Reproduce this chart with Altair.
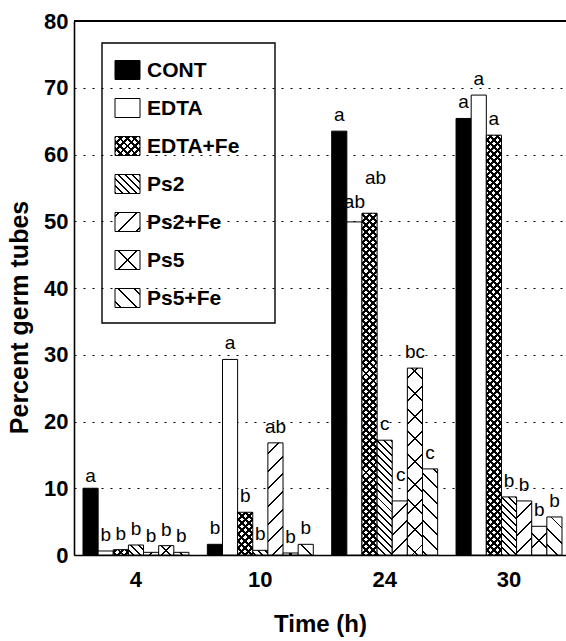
import math
import altair as alt
import pandas as pd

# ---------------- data ----------------
times = ["4", "10", "24", "30"]
series = ["CONT", "EDTA", "EDTA+Fe", "Ps2", "Ps2+Fe", "Ps5", "Ps5+Fe"]

cont = [10.0, 1.6, 63.5, 65.4]
edta = [0.6, 29.3, 49.9, 68.9]
edta_fe = [0.8, 6.4, 51.2, 62.9]
ps2 = [1.5, 0.7, 17.2, 8.7]
ps2_fe = [0.4, 16.8, 8.1, 8.1]
ps5 = [1.4, 0.3, 28.0, 4.3]
ps5_fe = [0.4, 1.6, 12.9, 5.7]

cont_sig = ["a", "b", "a", "a"]
edta_sig = ["b", "a", "ab", "a"]
edta_fe_sig = ["b", "b", "ab", "a"]
ps2_sig = ["b", "b", "c", "b"]
ps2_fe_sig = ["b", "ab", "c", "b"]
ps5_sig = ["b", "b", "bc", "b"]
ps5_fe_sig = ["b", "b", "c", "b"]

values = {"CONT": cont, "EDTA": edta, "EDTA+Fe": edta_fe, "Ps2": ps2,
          "Ps2+Fe": ps2_fe, "Ps5": ps5, "Ps5+Fe": ps5_fe}
sigs = {"CONT": cont_sig, "EDTA": edta_sig, "EDTA+Fe": edta_fe_sig, "Ps2": ps2_sig,
        "Ps2+Fe": ps2_fe_sig, "Ps5": ps5_sig, "Ps5+Fe": ps5_fe_sig}

# ---------------- layout / style ----------------
W, H = 492, 534
P_IN, P_OUT, ALIGN = 0.148, 0.0523, 0.692
STEP = W / (len(times) - P_IN + 2 * P_OUT)
BAR_W = STEP * (1 - P_IN) / len(series)
PX_PER_UNIT = H / 80.0
FONT = "Liberation Sans"
CLEAR = "rgba(255,255,255,0)"

patterns = {
    "CONT": ("solid", "black"),
    "EDTA": ("solid", "white"),
    "EDTA+Fe": ("cross", 5.0, 2.1),
    "Ps2": ("back", 5.0, 1.4),
    "Ps2+Fe": ("fwd", 12.5, 1.4),
    "Ps5": ("cross", 16.0, 1.4),
    "Ps5+Fe": ("back", 11.0, 1.4),
}

# label nudges (pixels up, pixels right) for crowded labels
label_nudge = {("24", "EDTA+Fe"): (29, 6), ("24", "Ps2+Fe"): (20, 1),
               ("24", "EDTA"): (14, 0), ("4", "CONT"): (6, 0)}
DEFAULT_LIFT = 10


def stripe_gradient(w, h, d, lw, direction, bg, ink="black"):
    w = max(w, 0.5)
    h = max(h, 0.5)
    k = h / w
    a = (w + h) * w / (w * w + h * h)
    if direction == "fwd":
        x1, y1, x2, y2 = 0, 0, a, a * k
    else:
        x1, y1, x2, y2 = 0, 1, a, 1 - a * k
    smax = w + h
    D = d * math.sqrt(2)
    L = lw * math.sqrt(2)
    phase = smax / 2
    n = math.ceil((-L / 2 - phase) / D)
    stops = []
    while True:
        c = phase + n * D
        lo, hi = c - L / 2, c + L / 2
        n += 1
        if lo >= smax:
            break
        if hi <= 0:
            continue
        tlo = max(lo, 0) / smax
        thi = min(hi, smax) / smax
        if tlo > 0:
            if not stops:
                stops.append((0, bg))
            stops.append((tlo, bg))
        stops.append((tlo, ink))
        stops.append((thi, ink))
        if thi < 1:
            stops.append((thi, bg))
    if not stops:
        stops = [(0, bg), (1, bg)]
    elif stops[-1][0] < 1:
        stops.append((1, stops[-1][1]))
    return {"gradient": "linear", "x1": x1, "y1": y1,
            "x2": round(x2, 6), "y2": round(y2, 6),
            "stops": [{"offset": round(o, 6), "color": col} for o, col in stops]}


def fills_for(s, w, h):
    spec = patterns[s]
    if spec[0] == "solid":
        return [spec[1]]
    kind, d, lw = spec
    if kind == "cross":
        return [stripe_gradient(w, h, d, lw, "back", "white"),
                stripe_gradient(w, h, d, lw, "fwd", CLEAR)]
    return [stripe_gradient(w, h, d, lw, kind, "white")]


rows = []
for s in series:
    for i, t in enumerate(times):
        lift, shift = label_nudge.get((t, s), (DEFAULT_LIFT, 0))
        rows.append({"time": t, "series": s, "value": values[s][i],
                     "sig": sigs[s][i], "lift": float(lift), "shift": float(shift)})
df = pd.DataFrame(rows)

xaxis = alt.Axis(title="Time (h)", labelAngle=0, labelFont=FONT, labelFontSize=22,
                 labelFontWeight="bold", labelColor="black", labelPadding=14,
                 ticks=False, tickSize=0, domainColor="black", domainWidth=1.6,
                 grid=False, titleFont=FONT, titleFontSize=24, titleFontWeight="bold",
                 titleColor="black", titleBaseline="top", titleY=57)
yaxis = alt.Axis(title="Percent germ tubes", values=list(range(0, 81, 10)),
                 labelFont=FONT, labelFontSize=22, labelFontWeight="bold",
                 labelColor="black", labelPadding=6, ticks=False, tickSize=0,
                 domainColor="black", domainWidth=1.6, grid=True, gridColor="black",
                 gridDash=[2, 7], gridWidth=1.2, gridOpacity=1,
                 titleFont=FONT, titleFontSize=25, titleFontWeight="bold",
                 titleColor="black", titleBaseline="bottom", titleX=-42, titleY=296)

X = alt.X("time:N", sort=times,
          scale=alt.Scale(domain=times, paddingInner=P_IN, paddingOuter=P_OUT, align=ALIGN),
          axis=xaxis)
XO = alt.XOffset("series:N", sort=series,
                 scale=alt.Scale(domain=series, paddingInner=0, paddingOuter=0))
Y = alt.Y("value:Q", scale=alt.Scale(domain=[0, 80], nice=False, zero=True), axis=yaxis)

layers = []

# bars, each with its own hatch gradient
for s in series:
    for i, t in enumerate(times):
        h = values[s][i] * PX_PER_UNIT
        fl = fills_for(s, BAR_W, h)
        for j, f in enumerate(fl):
            last = j == len(fl) - 1
            kw = dict(fill=f, strokeWidth=1.0 if last else 0)
            if last:
                kw["stroke"] = "black"
            layers.append(
                alt.Chart().mark_bar(**kw)
                .encode(x=X, xOffset=XO, y=Y)
                .transform_filter((alt.datum.time == t) & (alt.datum.series == s))
            )

# significance letters
for (lift, shift), _ in df.groupby(["lift", "shift"]):
    layers.append(
        alt.Chart().mark_text(font=FONT, fontSize=19, color="black",
                              baseline="alphabetic", dy=-float(lift), dx=float(shift))
        .encode(x=X, xOffset=XO, y=Y, text="sig:N")
        .transform_filter((alt.datum.lift == float(lift)) & (alt.datum.shift == float(shift)))
    )

ONE = pd.DataFrame({"k": [0]})

# top frame line
layers.append(alt.Chart(ONE).mark_rule(color="black", strokeWidth=2)
              .encode(x=alt.value(0), x2=alt.value(W), y=alt.value(0)))

# legend box
layers.append(alt.Chart(ONE).mark_rect(fill="white", fillOpacity=0, stroke="black",
                                       strokeWidth=1.4)
              .encode(x=alt.value(28), x2=alt.value(201), y=alt.value(22), y2=alt.value(302)))

SYM_W, SYM_H = 25, 19
for i, s in enumerate(series):
    yc = 49 + 38 * i
    fl = fills_for(s, SYM_W, SYM_H)
    for j, f in enumerate(fl):
        last = j == len(fl) - 1
        kw = dict(fill=f, strokeWidth=1.0 if last else 0)
        if last:
            kw["stroke"] = "black"
        layers.append(alt.Chart(ONE).mark_rect(**kw)
                      .encode(x=alt.value(41), x2=alt.value(41 + SYM_W),
                              y=alt.value(yc - SYM_H / 2), y2=alt.value(yc + SYM_H / 2)))
    layers.append(alt.Chart(ONE).mark_text(text=s, font=FONT, fontSize=21, fontWeight="bold",
                                           color="black", align="left", baseline="middle")
                  .encode(x=alt.value(73), y=alt.value(yc + 1)))

chart = (
    alt.layer(*layers, data=df)
    .properties(width=W, height=H, autosize=alt.AutoSizeParams(type="none"),
                padding={"left": 74, "top": 21, "right": 0, "bottom": 86})
    .configure(background="white")
    .configure_view(strokeWidth=0)
)

chart.save("out.html", embed_options={"renderer": "svg", "actions": False})
